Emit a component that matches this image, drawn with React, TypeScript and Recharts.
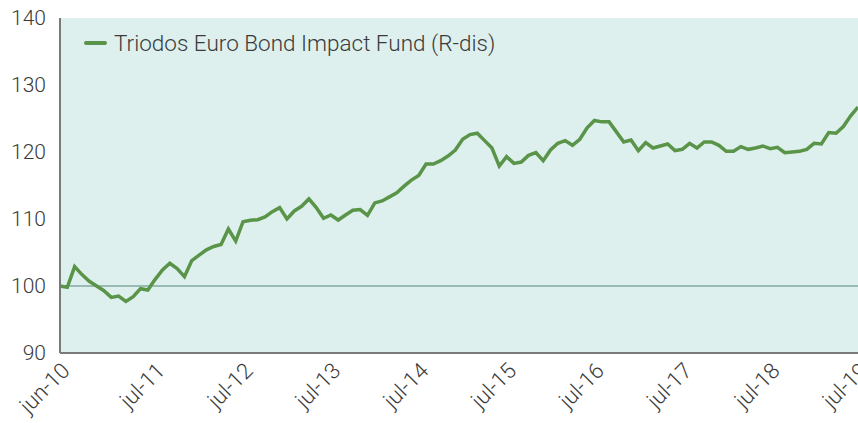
import { LineChart, Line, XAxis, YAxis, CartesianGrid, ReferenceLine } from "recharts"

const MONTHS = [
  "jun-10", "jul-10", "aug-10", "sep-10", "okt-10", "nov-10", "dec-10",
  "jan-11", "feb-11", "mrt-11", "apr-11", "mei-11", "jun-11", "jul-11", "aug-11", "sep-11", "okt-11", "nov-11", "dec-11",
  "jan-12", "feb-12", "mrt-12", "apr-12", "mei-12", "jun-12", "jul-12", "aug-12", "sep-12", "okt-12", "nov-12", "dec-12",
  "jan-13", "feb-13", "mrt-13", "apr-13", "mei-13", "jun-13", "jul-13", "aug-13", "sep-13", "okt-13", "nov-13", "dec-13",
  "jan-14", "feb-14", "mrt-14", "apr-14", "mei-14", "jun-14", "jul-14", "aug-14", "sep-14", "okt-14", "nov-14", "dec-14",
  "jan-15", "feb-15", "mrt-15", "apr-15", "mei-15", "jun-15", "jul-15", "aug-15", "sep-15", "okt-15", "nov-15", "dec-15",
  "jan-16", "feb-16", "mrt-16", "apr-16", "mei-16", "jun-16", "jul-16", "aug-16", "sep-16", "okt-16", "nov-16", "dec-16",
  "jan-17", "feb-17", "mrt-17", "apr-17", "mei-17", "jun-17", "jul-17", "aug-17", "sep-17", "okt-17", "nov-17", "dec-17",
  "jan-18", "feb-18", "mrt-18", "apr-18", "mei-18", "jun-18", "jul-18", "aug-18", "sep-18", "okt-18", "nov-18", "dec-18",
  "jan-19", "feb-19", "mrt-19", "apr-19", "mei-19", "jun-19", "jul-19",
]

const FUND = [
  100.0, 99.8, 102.9, 101.7, 100.7, 100.0, 99.3,
  98.3, 98.5, 97.7, 98.4, 99.6, 99.4, 101.0, 102.4, 103.4, 102.6, 101.4, 103.8,
  104.6, 105.4, 105.9, 106.2, 108.5, 106.7, 109.6, 109.8, 109.9, 110.3, 111.1, 111.7,
  110.0, 111.2, 111.9, 113.0, 111.7, 110.1, 110.6, 109.85, 110.6, 111.3, 111.4, 110.55,
  112.4, 112.7, 113.3, 113.9, 114.9, 115.8, 116.5, 118.2, 118.2, 118.7, 119.4, 120.3,
  121.9, 122.6, 122.8, 121.7, 120.6, 117.9, 119.3, 118.3, 118.5, 119.5, 119.9, 118.7,
  120.3, 121.3, 121.7, 121.0, 121.9, 123.6, 124.7, 124.5, 124.5, 123.0, 121.5, 121.8,
  120.2, 121.4, 120.6, 120.9, 121.2, 120.2, 120.4, 121.3, 120.6, 121.5, 121.5, 121.0,
  120.1, 120.1, 120.8, 120.4, 120.6, 120.9, 120.5, 120.7, 119.9, 120.0, 120.1, 120.4,
  121.3, 121.2, 122.9, 122.8, 123.8, 125.4, 126.7,
]

const X_TICKS = ["jun-10", "jul-11", "jul-12", "jul-13", "jul-14", "jul-15", "jul-16", "jul-17", "jul-18", "jul-19"]
const Y_TICKS = [90, 100, 110, 120, 130, 140]
const SERIES_NAME = "Triodos Euro Bond Impact Fund (R-dis)"

const data = MONTHS.map((month, i) => ({ month, fund: FUND[i] }))

const FONT = "Roboto, 'Noto Sans', sans-serif"
const GREEN = "#5a9449"
const TEXT = "#3a3a3a"

export default function App() {
  return (
    <div style={{ position: "absolute", left: 0, top: 0, width: 858, height: 423, background: "#fff" }}>
      <LineChart width={858} height={423} data={data} margin={{ top: 18, right: 0, left: 0, bottom: 0 }}>
        <CartesianGrid fill="#ddf0ee" stroke="none" />
        <XAxis
          dataKey="month"
          ticks={X_TICKS}
          interval={0}
          height={70}
          tickLine={false}
          axisLine={{ stroke: "#7a7a7a", strokeWidth: 2 }}
          angle={-45}
          textAnchor="end"
          tickMargin={2}
          tick={{ fontFamily: FONT, fontWeight: 300, fontSize: 22, fill: TEXT }}
        />
        <YAxis
          domain={[90, 140]}
          ticks={Y_TICKS}
          width={60}
          tickLine={false}
          axisLine={{ stroke: "#7a7a7a", strokeWidth: 2 }}
          tickMargin={8}
          tick={{ fontFamily: FONT, fontWeight: 300, fontSize: 21, fill: TEXT }}
        />
        <ReferenceLine y={100} stroke="#80aaa2" strokeWidth={1.5} />
        <Line
          type="linear"
          dataKey="fund"
          name={SERIES_NAME}
          stroke={GREEN}
          strokeWidth={3.5}
          dot={false}
          isAnimationActive={false}
        />
      </LineChart>
      {/* legend sits inside the plot, top left */}
      <div
        style={{
          position: "absolute",
          left: 84,
          top: 30,
          display: "flex",
          alignItems: "center",
          fontFamily: FONT,
          fontWeight: 300,
          fontSize: 22.5,
          color: TEXT,
          whiteSpace: "nowrap",
        }}
      >
        <span style={{ display: "inline-block", width: 23, height: 4, background: GREEN, borderRadius: 2, marginRight: 7 }}></span>
        <span>{SERIES_NAME}</span>
      </div>
    </div>
  )
}
